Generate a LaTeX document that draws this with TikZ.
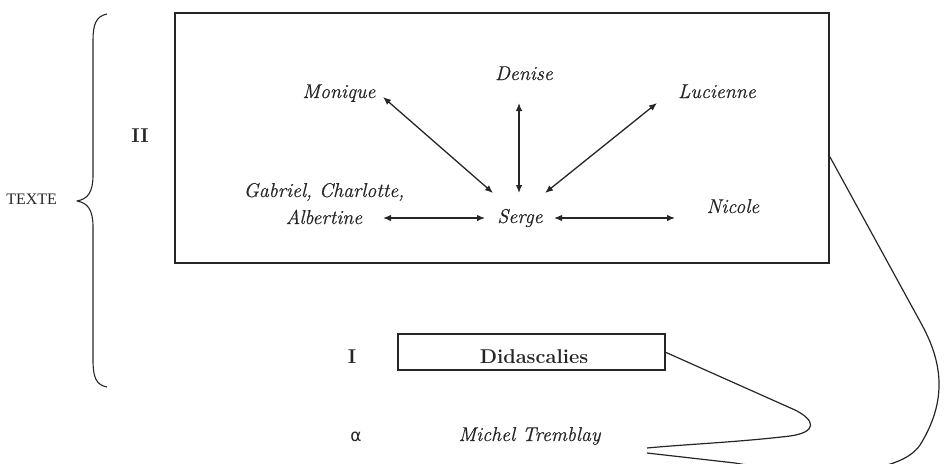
\documentclass[tikz,border=0pt]{standalone}
\usepackage{fontspec}
\usetikzlibrary{arrows.meta,calc}
\newfontfamily\greekfont{DejaVu Sans}
\newfontfamily\labelfont{Liberation Serif}
\newfontfamily\namefont{Latin Modern Roman}[FakeBold=0.5,ItalicFeatures={FakeBold=0.5}]
\definecolor{ink}{HTML}{262626}
\begin{document}
\begin{tikzpicture}[x=1pt,y=-1pt,
  every node/.style={inner sep=0pt,outer sep=0pt,text=ink},
  person/.style={font=\namefont\fontsize{20}{27}\selectfont\itshape,anchor=base},
  tier/.style={font=\fontsize{20}{24}\selectfont\bfseries,anchor=base},
  frame/.style={draw=ink,line width=1.4pt},
  link/.style={draw=ink,line width=1.3pt,{Latex[length=8pt,width=6.5pt]}-{Latex[length=8pt,width=6.5pt]}},
  tie/.style={draw=ink,line width=1.2pt,line join=round}]
  \useasboundingbox (0,0) rectangle (944,463);
  \clip (0,0) rectangle (944,463);

  % the two levels of the text
  \node[frame,minimum width=654pt,minimum height=250pt] (stage) at (502,138) {};
  \node[frame,minimum width=267pt,minimum height=36pt] (didbox) at (531.5,352) {};
  \node[tier] (didas) at (534,363) {Didascalies};

  % level marks and the brace
  \node[font=\labelfont\fontsize{16}{19}\selectfont,anchor=base east] (texte) at (57,204) {TEXTE};
  \node[tier] (two) at (140,142) {II};
  \node[tier] (one) at (352,363) {I};
  \node[font=\fontsize{17}{20}\selectfont\greekfont,anchor=base] (alpha) at (356,441) {α};
  \draw[tie,line width=1.1pt] (107,14) .. controls (96,16) and (93,25) .. (93,40) -- (93,175)
    .. controls (93,192) and (88,199) .. (77,201)
    .. controls (88,203) and (93,210) .. (93,227) -- (93,360)
    .. controls (93,377) and (96,385) .. (107,387);

  % characters
  \node[person] (monique) at (339,98) {Monique};
  \node[person] (denise) at (524,80) {Denise};
  \node[person] (lucienne) at (717,98) {Lucienne};
  \node[person,align=center] (gca) at (324,224) {Gabriel, Charlotte,\\Albertine};
  \node[person] (serge) at (520,223) {Serge};
  \node[person] (nicole) at (733,213) {Nicole};
  \node[person] (author) at (529.5,441) {Michel Tremblay};

  % relations around Serge
  \draw[link] ($(monique.base)+(44,-1)$) -- ($(serge.base)+(-27,-30)$);
  \draw[link] ($(denise.base)+(-5,23)$) -- ($(serge.base)+(-1,-30)$);
  \draw[link] ($(lucienne.base)+(-60,5)$) -- ($(serge.base)+(25,-30)$);
  \draw[link] ($(gca.base)+(59,-6)$) -- ($(serge.base)+(-35,-5)$);
  \draw[link] ($(serge.base)+(34,-5)$) -- ($(nicole.base)+(-58,5)$);

  % ties back to the author
  \draw[tie] (didbox.east) -- (795,410) .. controls (815,420) and (818,432) .. (790,436)
    .. controls (740,442) and (690,444) .. ($(author.base)+(117.5,7)$);
  \draw[tie] ($(stage.east)+(1,19)$) -- (922,325) .. controls (942,362) and (948,400) .. (920,445)
    .. controls (900,475) and (820,478) .. (735,463) -- ($(author.base)+(117.5,12)$);
\end{tikzpicture}
\end{document}
